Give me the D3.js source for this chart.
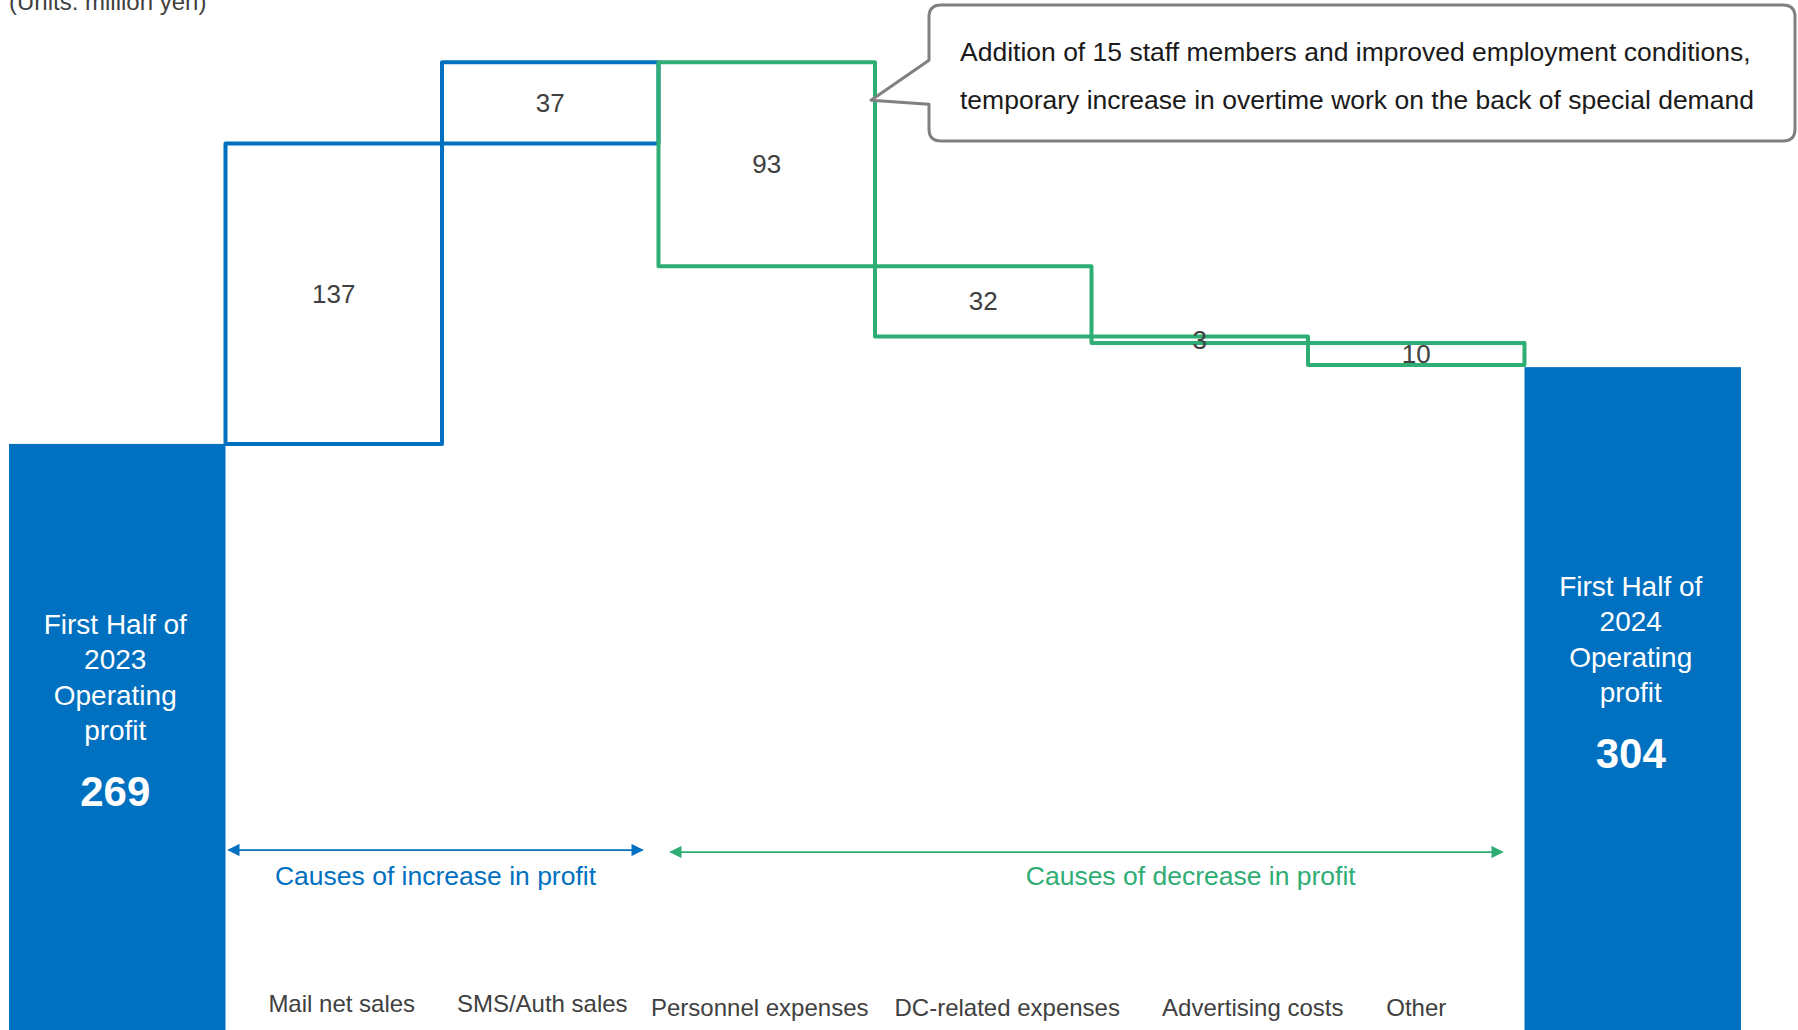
<!DOCTYPE html>
<html>
<head>
<meta charset="utf-8">
<script src="https://cdn.jsdelivr.net/npm/d3@7"></script>
<style>
  html, body { margin: 0; padding: 0; background: #fff; }
  svg { display: block; font-family: "Liberation Sans", Arial, sans-serif; }
</style>
</head>
<body>
<svg id="chart" width="1798" height="1030"></svg>
<script>
// Operating profit bridge, first half 2023 -> first half 2024 (million yen)
const categories = [
  "First Half of 2023 Operating profit",
  "Mail net sales",
  "SMS/Auth sales",
  "Personnel expenses",
  "DC-related expenses",
  "Advertising costs",
  "Other",
  "First Half of 2024 Operating profit"
];
const startValue = 269;
const endValue = 304;
const changeNames = ["Mail net sales", "SMS/Auth sales", "Personnel expenses", "DC-related expenses", "Advertising costs", "Other"];
const changeValues = [137, 37, -93, -32, -3, -10];
const startLabelLines = ["First Half of", "2023", "Operating", "profit"];
const endLabelLines = ["First Half of", "2024", "Operating", "profit"];
const calloutLines = [
  "Addition of 15 staff members and improved employment conditions,",
  "temporary increase in overtime work on the back of special demand"
];
const unitsLabel = "(Units: million yen)";
const increaseLabel = "Causes of increase in profit";
const decreaseLabel = "Causes of decrease in profit";

// horizontal / vertical nudges for the category names (layout only)
const nameNudgeX = [8, -8, -7, 24, 53, 0];
const nameNudgeY = [-4, -4, 0, 0, 0, 0];

const W = 1798, H = 1030;
const BLUE = "#0070C0", GREEN = "#2EAD74", TEXT = "#404040";

const svg = d3.select("#chart");

const x = d3.scaleBand().domain(categories).range([9, 1741]).padding(0);
const y = d3.scaleLinear().domain([0, 470]).range([1034, 3]);
const bw = x.bandwidth();

// running totals for the floating steps
let run = startValue;
const steps = changeNames.map((name, i) => {
  const v = changeValues[i];
  const from = run, to = run + v;
  run = to;
  return { name, value: v, lo: Math.min(from, to), hi: Math.max(from, to), up: v > 0 };
});

// markers for the range arrows
const defs = svg.append("defs");
[["arrBlue", BLUE], ["arrGreen", GREEN]].forEach(([id, c]) => {
  defs.append("marker")
    .attr("id", id).attr("viewBox", "0 0 10 10")
    .attr("refX", 9).attr("refY", 5)
    .attr("markerWidth", 7).attr("markerHeight", 7)
    .attr("markerUnits", "strokeWidth")
    .attr("orient", "auto-start-reverse")
    .append("path").attr("d", "M0,0 L10,5 L0,10 Z").attr("fill", c);
});

// start and end totals
const totals = [
  { cat: categories[0], value: startValue, lines: startLabelLines },
  { cat: categories[7], value: endValue, lines: endLabelLines }
];
const totG = svg.append("g");
totG.selectAll("rect").data(totals).join("rect")
  .attr("x", d => x(d.cat)).attr("width", bw)
  .attr("y", d => y(d.value)).attr("height", d => y(0) - y(d.value))
  .attr("fill", BLUE);

totals.forEach(d => {
  const cx = x(d.cat) + bw / 2 - 2;
  const mid = (y(d.value) + H) / 2 - 29;
  const top = mid - 84;
  const g = totG.append("g").attr("fill", "#fff").attr("text-anchor", "middle");
  d.lines.forEach((t, i) => {
    g.append("text").attr("x", cx).attr("y", top + i * 35.5 + 10)
      .attr("font-size", 28).text(t);
  });
  g.append("text").attr("x", cx).attr("y", top + 4 * 35.5 + 40)
    .attr("font-size", 42).attr("font-weight", "bold").text(d.value);
});

// floating step outlines: increases first, decreases on top
const stepG = svg.append("g");
const ordered = steps.filter(s => s.up).concat(steps.filter(s => !s.up));
stepG.selectAll("rect").data(ordered).join("rect")
  .attr("x", d => x(d.name)).attr("width", bw)
  .attr("y", d => y(d.hi)).attr("height", d => y(d.lo) - y(d.hi))
  .attr("fill", "none")
  .attr("stroke", d => d.up ? BLUE : GREEN)
  .attr("stroke-width", 4)
  .attr("stroke-linejoin", "round");

stepG.selectAll("text").data(steps).join("text")
  .attr("x", d => x(d.name) + bw / 2)
  .attr("y", d => (y(d.hi) + y(d.lo)) / 2)
  .attr("dy", "0.35em")
  .attr("text-anchor", "middle")
  .attr("font-size", 26)
  .attr("fill", TEXT)
  .text(d => Math.abs(d.value));

// range arrows and captions
const incStart = x(changeNames[0]) + 3, incEnd = x(changeNames[1]) + bw - 16;
const decStart = x(changeNames[2]) + 12, decEnd = x(changeNames[5]) + bw - 22;
svg.append("line").attr("x1", incStart).attr("x2", incEnd).attr("y1", 850).attr("y2", 850)
  .attr("stroke", BLUE).attr("stroke-width", 1.75)
  .attr("marker-start", "url(#arrBlue)").attr("marker-end", "url(#arrBlue)");
svg.append("line").attr("x1", decStart).attr("x2", decEnd).attr("y1", 852).attr("y2", 852)
  .attr("stroke", GREEN).attr("stroke-width", 1.75)
  .attr("marker-start", "url(#arrGreen)").attr("marker-end", "url(#arrGreen)");
svg.append("text").attr("x", (incStart + incEnd) / 2).attr("y", 885)
  .attr("text-anchor", "middle").attr("font-size", 26.5).attr("fill", BLUE).text(increaseLabel);
svg.append("text").attr("x", x(changeNames[4]) + bw / 2 - 9).attr("y", 885)
  .attr("text-anchor", "middle").attr("font-size", 26.5).attr("fill", GREEN).text(decreaseLabel);

// category names under the steps
svg.append("g").selectAll("text").data(changeNames).join("text")
  .attr("x", (d, i) => x(d) + bw / 2 + nameNudgeX[i])
  .attr("y", (d, i) => 1016 + nameNudgeY[i])
  .attr("text-anchor", "middle")
  .attr("font-size", 24)
  .attr("fill", TEXT)
  .text(d => d);

// units note
svg.append("text").attr("x", 9).attr("y", 10).attr("font-size", 24).attr("fill", TEXT).text(unitsLabel);

// callout on personnel expenses
const tipX = x(changeNames[2]) + bw - 4;
const tipY = y(steps[2].hi) + 38;
const bx0 = 929, by0 = 5, bx1 = 1795, by1 = 141, r = 12;
const callPath = d3.path();
callPath.moveTo(bx0 + r, by0);
callPath.lineTo(bx1 - r, by0);
callPath.quadraticCurveTo(bx1, by0, bx1, by0 + r);
callPath.lineTo(bx1, by1 - r);
callPath.quadraticCurveTo(bx1, by1, bx1 - r, by1);
callPath.lineTo(bx0 + r, by1);
callPath.quadraticCurveTo(bx0, by1, bx0, by1 - r);
callPath.lineTo(bx0, tipY + 4);
callPath.lineTo(tipX, tipY);
callPath.lineTo(bx0, tipY - 40);
callPath.lineTo(bx0, by0 + r);
callPath.quadraticCurveTo(bx0, by0, bx0 + r, by0);
callPath.closePath();
svg.append("path").attr("d", callPath.toString())
  .attr("fill", "#fff").attr("stroke", "#808080").attr("stroke-width", 3)
  .attr("stroke-linejoin", "round");
svg.append("g").selectAll("text").data(calloutLines).join("text")
  .attr("x", 960).attr("y", (d, i) => 61 + i * 48)
  .attr("font-size", 26.5).attr("fill", "#1a1a1a")
  .text(d => d);
</script>
</body>
</html>
